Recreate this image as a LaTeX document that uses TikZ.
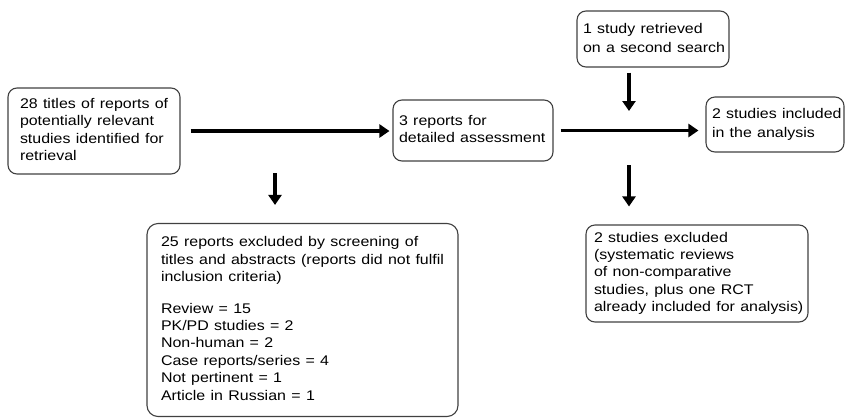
\documentclass[tikz,border=0pt]{standalone}
\usepackage{fontspec}
\setmainfont{Liberation Sans}
\usetikzlibrary{arrows.meta}
\newcommand{\boxtext}[1]{\scalebox{1.14}[1]{\begin{tabular}{@{}l@{}}#1\end{tabular}}}
\begin{document}
\begin{tikzpicture}[x=1pt,y=-1pt,
  box/.style={draw=black!75, line width=1.1pt, rounded corners=9pt, align=left,
    font=\fontsize{14}{17.4}\selectfont, inner ysep=0pt},
  wide/.style={font=\fontsize{14}{18.6}\selectfont},
  arr/.style={line width=3.5pt, -{Triangle[length=10pt,width=13pt]}}]
\useasboundingbox (0,0) rectangle (845,418);
\node[box, inner xsep=12pt, text width=148pt, minimum height=86pt] (A) at (94,131)
  {\boxtext{28 titles of reports of\\potentially relevant\\studies identified for\\retrieval}};
\node[box, inner xsep=6pt, text width=148pt, minimum height=61pt] (B) at (473,130.5)
  {\boxtext{3 reports for\\detailed assessment}};
\node[box, wide, inner xsep=6pt, text width=126pt, minimum height=55pt] (C) at (775,124.5)
  {\boxtext{2 studies included\\in the analysis}};
\node[box, wide, inner xsep=6pt, text width=140pt, minimum height=56pt] (D) at (653,39)
  {\boxtext{1 study retrieved\\on a second search}};
\node[box, inner xsep=8pt, text width=206pt, minimum height=97pt] (E) at (697,273.5)
  {\boxtext{2 studies excluded\\(systematic reviews\\of non-comparative\\studies, plus one RCT\\already included for analysis)}};
\node[box, rounded corners=11pt, inner xsep=14pt, text width=283pt, minimum height=193pt] (F) at (302.5,320)
  {\boxtext{25 reports excluded by screening of\\titles and abstracts (reports did not fulfil\\inclusion criteria)\\[14pt]Review = 15\\PK/PD studies = 2\\Non-human = 2\\Case reports/series = 4\\Not pertinent = 1\\Article in Russian = 1}};
\coordinate (s1) at (275,173);
\coordinate (s2) at (629,111);
\coordinate (s3) at (629,165);
\draw[arr] ([xshift=10pt]A.east) -- ([xshift=-3pt]B.west |- A.east);
\draw[arr] (s1) -- ([yshift=18pt]s1 |- F.north);
\draw[arr] ([xshift=7pt]B.east) -- ([xshift=-7pt]C.west |- B.east);
\draw[arr] ([yshift=-5pt]s2 |- D.south) -- (s2);
\draw[arr] (s3) -- ([yshift=18pt]s3 |- E.north);
\end{tikzpicture}
\end{document}
